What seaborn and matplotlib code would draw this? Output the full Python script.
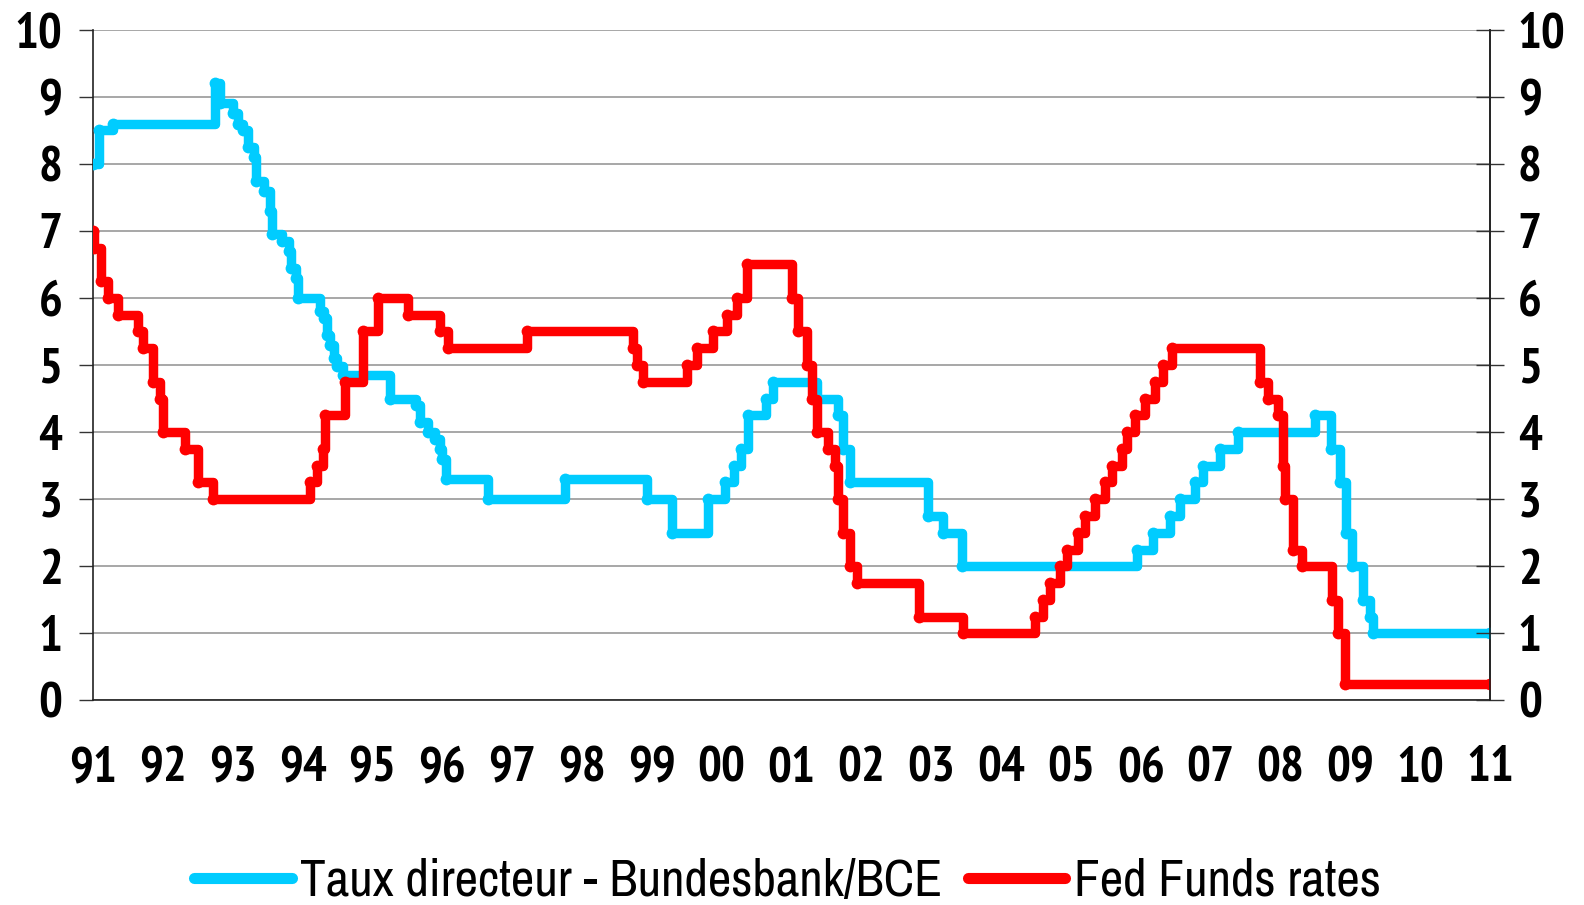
import numpy as np
import pandas as pd
import matplotlib
matplotlib.use("Agg")
import matplotlib.pyplot as plt
from matplotlib.lines import Line2D
from matplotlib import font_manager
from matplotlib.font_manager import FontProperties
import seaborn as sns

# Data (decimal year of each change, level in %)
ecb_dates = [1991.00, 1991.08, 1991.28, 1992.75, 1992.82, 1993.00, 1993.07, 1993.15,
             1993.22, 1993.30, 1993.33, 1993.45, 1993.53, 1993.56, 1993.70, 1993.80,
             1993.84, 1993.90, 1993.94, 1994.25, 1994.30, 1994.35, 1994.40, 1994.45,
             1994.50, 1994.58, 1995.25, 1995.62, 1995.68, 1995.80, 1995.90, 1995.97,
             1996.00, 1996.06, 1996.65, 1997.76, 1998.93, 1999.29, 1999.80, 2000.05,
             2000.18, 2000.27, 2000.37, 2000.63, 2000.73, 2001.37, 2001.67, 2001.74,
             2001.84, 2002.95, 2003.17, 2003.44, 2005.95, 2006.18, 2006.42, 2006.56,
             2006.78, 2006.89, 2007.13, 2007.39, 2008.49, 2008.73, 2008.85, 2008.94,
             2009.03, 2009.18, 2009.28, 2009.32, 2011.00]
ecb_rates = [8.0, 8.5, 8.6, 9.2, 8.9, 8.75, 8.6, 8.5,
             8.25, 8.1, 7.75, 7.6, 7.3, 6.95, 6.85, 6.7,
             6.45, 6.3, 6.0, 5.8, 5.7, 5.45, 5.3, 5.1,
             4.98, 4.85, 4.5, 4.4, 4.15, 4.0, 3.9, 3.75,
             3.6, 3.3, 3.0, 3.3, 3.0, 2.5, 3.0, 3.25,
             3.5, 3.75, 4.25, 4.5, 4.75, 4.5, 4.25, 3.75,
             3.25, 2.75, 2.5, 2.0, 2.25, 2.5, 2.75, 3.0,
             3.25, 3.5, 3.75, 4.0, 4.25, 3.75, 3.25, 2.5,
             2.0, 1.5, 1.25, 1.0, 1.0]

fed_dates = [1991.00, 1991.01, 1991.12, 1991.21, 1991.36, 1991.64, 1991.72, 1991.86,
             1991.96, 1992.00, 1992.32, 1992.50, 1992.72, 1994.11, 1994.21, 1994.29,
             1994.32, 1994.61, 1994.87, 1995.08, 1995.51, 1995.97, 1996.08, 1997.21,
             1998.73, 1998.79, 1998.87, 1999.50, 1999.65, 1999.88, 2000.07, 2000.22,
             2000.36, 2001.00, 2001.09, 2001.22, 2001.29, 2001.37, 2001.52, 2001.62,
             2001.67, 2001.74, 2001.84, 2001.94, 2002.82, 2003.46, 2004.49, 2004.60,
             2004.70, 2004.84, 2004.94, 2005.10, 2005.20, 2005.34, 2005.49, 2005.59,
             2005.73, 2005.80, 2005.92, 2006.06, 2006.20, 2006.32, 2006.45, 2007.71,
             2007.82, 2007.96, 2008.04, 2008.06, 2008.18, 2008.31, 2008.74, 2008.82,
             2008.92, 2011.00]
fed_rates = [7.0, 6.75, 6.25, 6.0, 5.75, 5.5, 5.25, 4.75,
             4.5, 4.0, 3.75, 3.25, 3.0, 3.25, 3.5, 3.75,
             4.25, 4.75, 5.5, 6.0, 5.75, 5.5, 5.25, 5.5,
             5.25, 5.0, 4.75, 5.0, 5.25, 5.5, 5.75, 6.0,
             6.5, 6.0, 5.5, 5.0, 4.5, 4.0, 3.75, 3.5,
             3.0, 2.5, 2.0, 1.75, 1.25, 1.0, 1.25, 1.5,
             1.75, 2.0, 2.25, 2.5, 2.75, 3.0, 3.25, 3.5,
             3.75, 4.0, 4.25, 4.5, 4.75, 5.0, 5.25, 4.75,
             4.5, 4.25, 3.5, 3.0, 2.25, 2.0, 1.5, 1.0,
             0.25, 0.25]

years = list(range(1991, 2012))
year_labels = ["91", "92", "93", "94", "95", "96", "97", "98", "99", "00",
               "01", "02", "03", "04", "05", "06", "07", "08", "09", "10", "11"]

label_ecb = "Taux directeur - Bundesbank/BCE"
label_fed = "Fed Funds rates"
col_ecb = "#00CCFF"
col_fed = "#FF0000"

sns.set_theme(style="white")
plt.rcParams["font.family"] = ["DejaVu Sans"]
plt.rcParams["text.color"] = "black"
plt.rcParams["xtick.color"] = "black"
plt.rcParams["ytick.color"] = "black"


# find a narrow font file (Arial Narrow look-alike), bold and regular
def find_font(keys_list, bold):
    files = [f.fname for f in font_manager.fontManager.ttflist]
    for keys in keys_list:
        for fn in files:
            base = fn.split("/")[-1].lower()
            if "italic" in base or "oblique" in base:
                continue
            if not all(k in base for k in keys):
                continue
            is_bold = "bold" in base and "semibold" not in base and "extrabold" not in base
            if bold == is_bold:
                if not bold and any(w in base for w in ["light", "thin", "medium", "black", "semibold"]):
                    continue
                return fn
    return None


order = [["liberationsansnarrow"], ["narrow"], ["robotocondensed"], ["roboto_condensed"],
         ["condensed"], ["dejavusanscondensed"]]
bold_file = find_font(order, True)
reg_file = find_font(order, False)
fp_bold = FontProperties(fname=bold_file, size=36) if bold_file else FontProperties(family="DejaVu Sans", weight="bold", size=29)
fp_reg = FontProperties(fname=reg_file, size=37) if reg_file else FontProperties(family="DejaVu Sans", size=29)

df_ecb = pd.DataFrame({"date": ecb_dates, "rate": ecb_rates})
df_fed = pd.DataFrame({"date": fed_dates, "rate": fed_rates})

fig = plt.figure(figsize=(15.84, 9.05), dpi=100)
ax = fig.add_axes([0.0587, 0.226, 0.882, 0.7413])

ax.yaxis.grid(True, color="#A0A0A0", linewidth=1.3)
ax.set_axisbelow(True)

sns.lineplot(data=df_ecb, x="date", y="rate", ax=ax, color=col_ecb,
             drawstyle="steps-post", linewidth=6.8, marker="o", markersize=8.5,
             markeredgewidth=0, solid_joinstyle="round", zorder=3)
sns.lineplot(data=df_fed, x="date", y="rate", ax=ax, color=col_fed,
             drawstyle="steps-post", linewidth=6.8, marker="o", markersize=8.5,
             markeredgewidth=0, solid_joinstyle="round", zorder=4)

ax.set_xlim(1991, 2011)
ax.set_ylim(0, 10)
ax.set_xticks(years)
ax.set_xticklabels(year_labels)
ax.set_yticks(range(0, 11))
ax.set_xlabel("")
ax.set_ylabel("")

for side in ["left", "bottom", "right"]:
    ax.spines[side].set_color("#222222")
    ax.spines[side].set_linewidth(1.2)
ax.spines["top"].set_visible(False)

ax.tick_params(axis="x", direction="out", length=11, width=1.0, color="#333333", pad=22)
ax.tick_params(axis="y", direction="out", length=10, width=1.0, color="#333333", pad=12)
for lab in ax.get_xticklabels() + ax.get_yticklabels():
    lab.set_fontproperties(fp_bold)

ax2 = ax.twinx()
ax2.set_ylim(0, 10)
ax2.set_yticks(range(0, 11))
ax2.spines["top"].set_visible(False)
ax2.spines["left"].set_visible(False)
ax2.spines["bottom"].set_visible(False)
ax2.spines["right"].set_color("#222222")
ax2.spines["right"].set_linewidth(1.2)
ax2.tick_params(axis="y", direction="inout", length=20, width=1.0, color="#333333", pad=10)
for lab in ax2.get_yticklabels():
    lab.set_fontproperties(fp_bold)

handles = [Line2D([0], [0], color=col_ecb, linewidth=8, solid_capstyle="round"),
           Line2D([0], [0], color=col_fed, linewidth=8, solid_capstyle="round")]
fig.legend(handles, [label_ecb, label_fed], loc="center", bbox_to_anchor=(0.497, 0.026),
           ncol=2, frameon=False, prop=fp_reg, handlelength=1.9, handletextpad=0.16,
           columnspacing=0.5)

fig.savefig("out.png", dpi=100)
